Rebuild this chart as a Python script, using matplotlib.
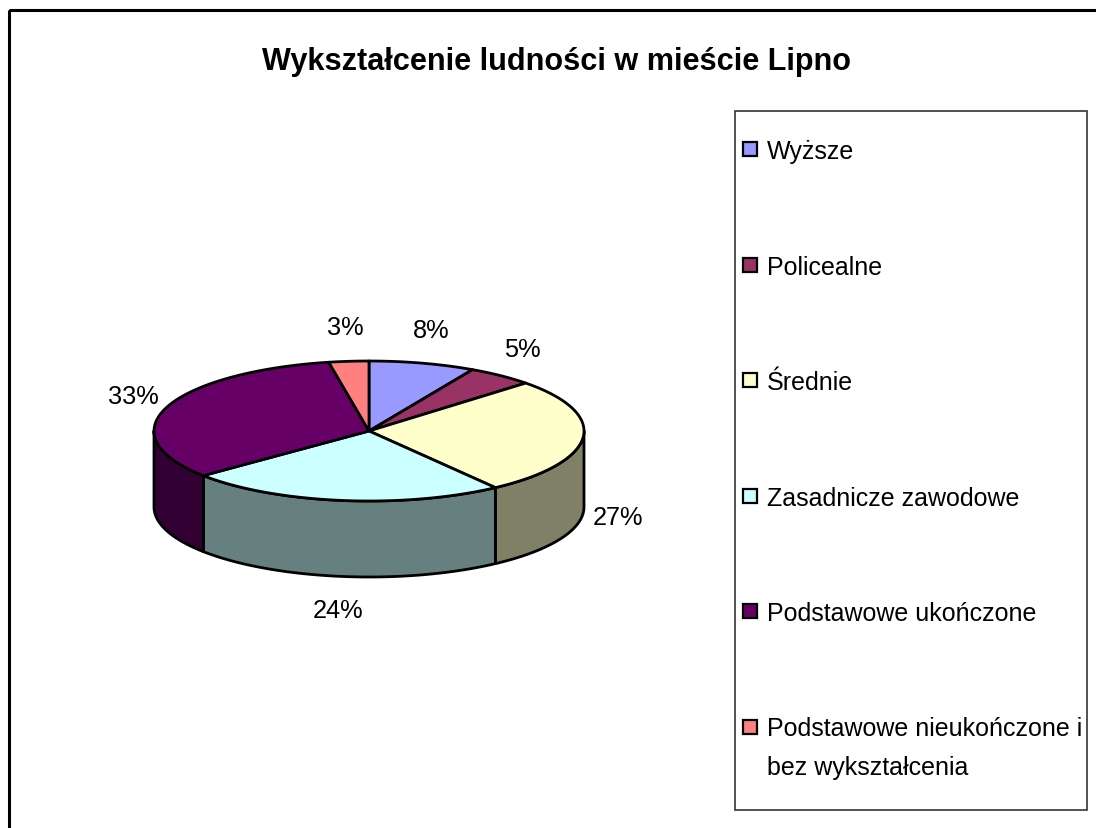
import numpy as np
import matplotlib.pyplot as plt
from matplotlib.patches import Polygon, Rectangle

title = 'Wykształcenie ludności w mieście Lipno'
categories = ['Wyższe', 'Policealne', 'Średnie', 'Zasadnicze zawodowe',
              'Podstawowe ukończone', 'Podstawowe nieukończone i\nbez wykształcenia']
shares = [8, 5, 27, 24, 33, 3]
pct_labels = ['8%', '5%', '27%', '24%', '33%', '3%']
colors = ['#9999FF', '#993366', '#FFFFCC', '#CCFFFF', '#660066', '#FF8080']

W, H = 1096, 829
fam = ['Liberation Sans', 'DejaVu Sans']

fig = plt.figure(figsize=(W / 100, H / 100), dpi=100)
ax = fig.add_axes([0, 0, 1, 1])
ax.set_xlim(0, W)
ax.set_ylim(H, 0)
ax.axis('off')

# pie geometry (pixels)
cx, cy, rx, ry, depth = 369, 432, 215, 70, 76


def rgb(c):
    c = c.lstrip('#')
    return np.array([int(c[i:i + 2], 16) / 255 for i in (0, 2, 4)])


def arc(t1, t2, n=80, dy=0):
    t = np.radians(np.linspace(t1, t2, n))
    return np.column_stack([cx + rx * np.cos(t), cy - ry * np.sin(t) + dy])


frac = np.array(shares) / np.sum(shares)
ends = 90 - 360 * np.cumsum(frac)
starts = np.concatenate([[90], ends[:-1]])

# side walls (front half only)
for a, b, col in zip(starts, ends, colors):
    for s in (-360, 0, 360):
        lo, hi = max(b, -180 + s), min(a, 0 + s)
        if hi - lo <= 0:
            continue
        top = arc(lo, hi)
        bot = arc(hi, lo, dy=depth)
        ax.add_patch(Polygon(np.vstack([top, bot]), closed=True,
                             facecolor=rgb(col) * 0.5, edgecolor='black',
                             lw=2.0, joinstyle='round'))

# top faces
for a, b, col in zip(starts, ends, colors):
    pts = np.vstack([[cx, cy], arc(a, b)])
    ax.add_patch(Polygon(pts, closed=True, facecolor=col,
                         edgecolor='black', lw=2.0, joinstyle='round'))

# percentage labels
for a, b, lab in zip(starts, ends, pct_labels):
    m = np.radians((a + b) / 2)
    x = cx + (rx + 35) * np.cos(m)
    y = cy - (ry + 34) * np.sin(m) + (depth if np.sin(m) < 0 else 0)
    ax.text(x, y, lab, ha='center', va='center', family=fam,
            fontsize=18.3, color='black')

ax.text(557, 62, title, ha='center', va='center', family=fam,
        fontsize=22.1, fontweight='bold')

# legend
ax.add_patch(Rectangle((735, 112), 352, 699, facecolor='white',
                       edgecolor='#333333', lw=1.2))
ys = 150 + 115.5 * np.arange(len(categories))
for y, lab, col in zip(ys, categories, colors):
    ax.add_patch(Rectangle((743, y - 7), 14, 14, facecolor=col,
                           edgecolor='black', lw=1.6))
    for j, line in enumerate(lab.split('\n')):
        ax.text(767, y + 2 + 38 * j, line, ha='left', va='center',
                family=fam, fontsize=18)

# outer chart border
ax.add_patch(Rectangle((9, 11), 1300, 1000, facecolor='none',
                       edgecolor='black', lw=2.2, clip_on=False))

fig.savefig('out.png', dpi=100)
